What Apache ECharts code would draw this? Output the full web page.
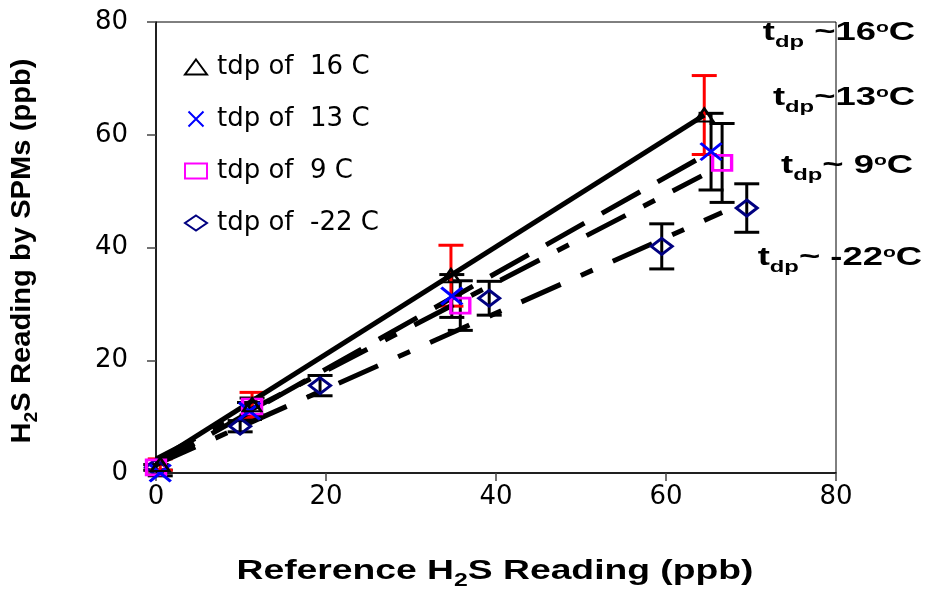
<!DOCTYPE html>
<html><head><meta charset="utf-8">
<script src="https://cdn.jsdelivr.net/npm/echarts@6/dist/echarts.min.js"></script>
<style>html,body{margin:0;padding:0;background:#fff}#c{width:934px;height:594px}</style>
</head><body><div id="c"></div>
<script>
// ---- data ----
const seriesNames = ['tdp of  16 C', 'tdp of  13 C', 'tdp of  9 C', 'tdp of  -22 C'];

const x16 = [0.5, 11.3, 34.7, 64.5];
const y16 = [1.5, 12.1, 35.0, 63.5];
const e16 = [1.0, 2.2, 5.4, 7.0];

const x13 = [0.5, 11.0, 34.8, 65.3];
const y13 = [0.0, 11.0, 31.4, 57.0];
const e13 = [0.5, 1.5, 3.8, 6.8];

const x9 = [0.0, 11.3, 35.8, 66.6];
const y9 = [1.0, 11.8, 29.7, 55.0];
const e9 = [0.5, 1.5, 4.4, 7.0];

const xm22 = [0.0, 9.9, 19.3, 39.2, 59.5, 69.5];
const ym22 = [1.0, 8.3, 15.5, 31.0, 40.2, 47.0];
const em22 = [0.5, 1.0, 1.8, 3.0, 4.0, 4.3];

// trend lines (end points)
const tx16 = [0, 64.5],  ty16 = [2.0, 63.5];
const tx13 = [0, 65.3],  ty13 = [1.4, 57.0];
const tx9  = [0, 64.2],  ty9  = [2.5, 52.7];
const txm22 = [0, 66.6], tym22 = [1.5, 46.2];

const axisMin = 0, axisMax = 80, axisStep = 20;

// ---- helpers ----
const zip = (xs, ys) => xs.map((x, i) => [x, ys[i]]);
const errData = (xs, ys, es) => xs.map((x, i) => [x, ys[i] - es[i], ys[i] + es[i]]);

function errRender(color) {
  return function (params, api) {
    const x = api.value(0), lo = api.value(1), hi = api.value(2);
    const pLo = api.coord([x, lo]), pHi = api.coord([x, hi]);
    const hw = 12.5;
    const style = { stroke: color, lineWidth: 3, fill: null };
    return { type: 'group', children: [
      { type: 'line', shape: { x1: pLo[0], y1: pLo[1], x2: pHi[0], y2: pHi[1] }, style: style },
      { type: 'line', shape: { x1: pHi[0] - hw, y1: pHi[1], x2: pHi[0] + hw, y2: pHi[1] }, style: style },
      { type: 'line', shape: { x1: pLo[0] - hw, y1: pLo[1], x2: pLo[0] + hw, y2: pLo[1] }, style: style }
    ]};
  };
}
function errSeries(xs, ys, es, color) {
  return { type: 'custom', renderItem: errRender(color), data: errData(xs, ys, es),
    encode: { x: 0, y: [1, 2] }, z: 1, silent: true };
}
function trendSeries(xs, ys, dash) {
  return { type: 'line', data: zip(xs, ys), showSymbol: false, symbol: 'none', z: 2, silent: true,
    lineStyle: { color: '#000', width: 5, type: dash, cap: 'butt' } };
}
function pointSeries(name, xs, ys, symbol, size, color, bw) {
  return { name: name, type: 'scatter', data: zip(xs, ys), symbol: symbol, symbolSize: size, z: 3,
    itemStyle: { color: 'rgba(0,0,0,0)', borderColor: color, borderWidth: bw, opacity: 1 } };
}

const crossPath = 'path://M0,0L10,10M10,0L0,10';

const boldFont = 'Liberation Sans';
const mainRich = { fontFamily: boldFont, fontWeight: 'bold', fontSize: 26, lineHeight: 26, verticalAlign: 'top', color: '#000' };
const subRich  = { fontFamily: boldFont, fontWeight: 'bold', fontSize: 17, lineHeight: 31, verticalAlign: 'bottom', color: '#000' };
const supRich  = { fontFamily: boldFont, fontWeight: 'bold', fontSize: 15, lineHeight: 15, verticalAlign: 'top', color: '#000' };

function annotation(label, rightX, mainCenterY) {
  return { type: 'text', x: rightX, y: mainCenterY + 2.5, scaleX: 1.40, z: 10,
    style: { text: '{m|t}{s|dp}{m|' + label + '}{o|o}{m|C}', align: 'right', verticalAlign: 'middle',
      rich: { m: mainRich, s: subRich, o: supRich } } };
}

const titleMain = { fontFamily: boldFont, fontWeight: 'bold', fontSize: 27, lineHeight: 27, verticalAlign: 'top', color: '#000' };
const titleSub  = { fontFamily: boldFont, fontWeight: 'bold', fontSize: 18, lineHeight: 32, verticalAlign: 'bottom', color: '#000' };

const chart = echarts.init(document.getElementById('c'), null, { renderer: 'canvas' });
chart.setOption({
  backgroundColor: '#fff',
  animation: false,
  grid: { left: 156, right: 98, top: 22, bottom: 121, show: true, borderColor: '#000', borderWidth: 1, backgroundColor: 'transparent' },
  xAxis: { type: 'value', min: axisMin, max: axisMax, interval: axisStep,
    axisLine: { lineStyle: { color: '#000', width: 1.5 } },
    axisTick: { show: true, inside: false, length: 8, lineStyle: { color: '#444', width: 1.5 } },
    axisLabel: { margin: 11, fontFamily: 'DejaVu Sans', fontSize: 26, color: '#000' },
    splitLine: { show: false } },
  yAxis: { type: 'value', min: axisMin, max: axisMax, interval: axisStep,
    axisLine: { show: true, lineStyle: { color: '#000', width: 1.5 } },
    axisTick: { show: true, inside: false, length: 9, lineStyle: { color: '#444', width: 1.5 } },
    axisLabel: { margin: 28, fontFamily: 'DejaVu Sans', fontSize: 26, color: '#000' },
    splitLine: { show: false } },
  legend: { orient: 'vertical', left: 179, top: 49, itemWidth: 22, itemHeight: 15, itemGap: 26,
    data: seriesNames,
    textStyle: { fontFamily: 'DejaVu Sans', fontSize: 26, lineHeight: 25, color: '#000', padding: [0, 0, 0, 5] } },
  graphic: [
    annotation(' ~16', 915, 33),
    annotation('~13', 915, 98),
    annotation('~ 9', 913, 166),
    annotation('~ -22', 922, 258),
    { type: 'text', x: 495, y: 572 + 2.5, scaleX: 1.38, z: 10,
      style: { text: '{m|Reference H}{s|2}{m|S Reading (ppb)}', align: 'center', verticalAlign: 'middle',
        rich: { m: titleMain, s: titleSub } } },
    { type: 'text', x: 28 - 2.5, y: 251, rotation: Math.PI / 2, scaleX: 1.08, z: 10,
      style: { text: '{m|H}{s|2}{m|S Reading by SPMs (ppb)}', align: 'center', verticalAlign: 'middle',
        rich: { m: titleMain, s: titleSub } } }
  ],
  series: [
    errSeries(xm22, ym22, em22, '#000'),
    errSeries(x9, y9, e9, '#000'),
    errSeries(x13, y13, e13, '#000'),
    errSeries(x16, y16, e16, '#FF0000'),
    trendSeries(tx16, ty16, 'solid'),
    trendSeries(tx13, ty13, [44, 20]),
    trendSeries(tx9, ty9, [44, 20, 13, 20]),
    trendSeries(txm22, tym22, [43, 22, 13, 22]),
    pointSeries(seriesNames[3], xm22, ym22, 'diamond', [21, 16], '#000080', 3),
    pointSeries(seriesNames[2], x9, y9, 'rect', [19, 15], '#FF00FF', 3),
    pointSeries(seriesNames[1], x13, y13, crossPath, [21, 17], '#0000FF', 3),
    pointSeries(seriesNames[0], x16, y16, 'triangle', [18, 13], '#000', 2.5)
  ]
});
</script></body></html>
